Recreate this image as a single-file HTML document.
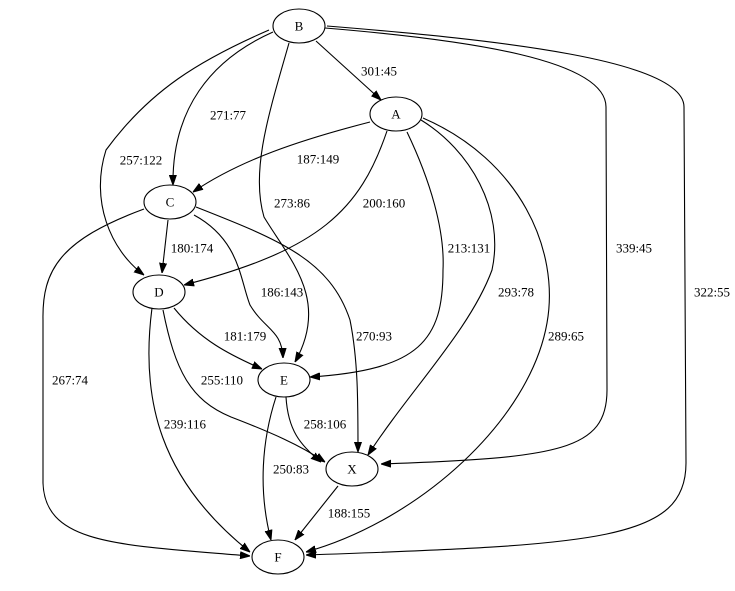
<!DOCTYPE html>
<html><head><meta charset="utf-8"><style>
html,body{margin:0;padding:0;background:#fff;}
svg{display:block;}
text{font-family:"Liberation Serif",serif;font-size:13px;fill:#000;text-anchor:middle;dominant-baseline:central;}
path.e{fill:none;stroke:#000;stroke-width:1.1;}
path.h{fill:#000;stroke:#000;stroke-width:1;}
ellipse{fill:#fff;stroke:#000;stroke-width:1.1;}
</style></head><body>
<svg width="735" height="591" viewBox="0 0 735 591" xmlns="http://www.w3.org/2000/svg">
<defs><marker id="a" viewBox="0 0 10 8" refX="10" refY="4" markerWidth="10" markerHeight="8" markerUnits="userSpaceOnUse" orient="auto"><path class="h" d="M0,0.5 L10,4 L0,7.5 Z"/></marker></defs>
<g marker-end="url(#a)">
<path class="e" d="M316,41 L381,100"/>
<path class="e" d="M273,32 C210,60 172,110 173,185"/>
<path class="e" d="M269,30 C200,60 150,90 106,150 C90,200 110,250 144,275"/>
<path class="e" d="M289,43 C270,110 250,170 264,217 C290,260 330,300 295,362"/>
<path class="e" d="M325,28 C470,40 606,60 606,107 L607,390 C607,450 560,458 381,464"/>
<path class="e" d="M327,26 C500,40 684,60 684,107 L686,463 C686,540 600,545 306,555"/>
<path class="e" d="M370,122 C300,140 240,160 193,192"/>
<path class="e" d="M387,131 C360,210 320,250 184,285"/>
<path class="e" d="M407,132 C430,180 445,230 443,270 C443,340 420,370 310,377"/>
<path class="e" d="M421,120 C470,150 505,210 492,270 C470,330 410,390 368,455"/>
<path class="e" d="M423,118 C520,160 560,250 547,323 C530,420 420,520 306,552"/>
<path class="e" d="M144,209 C60,240 42,270 43,320 L43,483 C45,545 120,545 250,556"/>
<path class="e" d="M168,220 L162,273"/>
<path class="e" d="M194,215 C240,240 240,280 250,305 C265,330 282,330 283,358"/>
<path class="e" d="M196,207 C280,240 330,260 350,320 C358,360 358,400 358,452"/>
<path class="e" d="M174,308 C200,340 230,355 262,369"/>
<path class="e" d="M163,310 C175,370 190,400 231,417 C270,432 300,445 325,462"/>
<path class="e" d="M152,308 C140,400 160,480 250,552"/>
<path class="e" d="M286,397 C288,430 300,445 321,462"/>
<path class="e" d="M276,397 C262,440 258,490 271,540"/>
<path class="e" d="M338,486 L295,540"/>
</g>
<ellipse cx="299" cy="26" rx="26" ry="17"/><text x="299" y="26">B</text>
<ellipse cx="396" cy="114" rx="26" ry="17"/><text x="396" y="114">A</text>
<ellipse cx="170" cy="202" rx="26" ry="17"/><text x="170" y="202">C</text>
<ellipse cx="159" cy="292" rx="26" ry="17"/><text x="159" y="292">D</text>
<ellipse cx="284" cy="380" rx="26" ry="17"/><text x="284" y="380">E</text>
<ellipse cx="352" cy="469" rx="26" ry="17"/><text x="352" y="469">X</text>
<ellipse cx="278" cy="557" rx="26" ry="17"/><text x="278" y="557">F</text>
<text x="379" y="71">301:45</text>
<text x="228" y="115">271:77</text>
<text x="141" y="160">257:122</text>
<text x="292" y="203">273:86</text>
<text x="634" y="248">339:45</text>
<text x="712" y="292">322:55</text>
<text x="318" y="159">187:149</text>
<text x="384" y="203">200:160</text>
<text x="469" y="248">213:131</text>
<text x="516" y="292">293:78</text>
<text x="566" y="336">289:65</text>
<text x="70" y="380">267:74</text>
<text x="192" y="248">180:174</text>
<text x="282" y="292">186:143</text>
<text x="374" y="336">270:93</text>
<text x="245" y="336">181:179</text>
<text x="222" y="380">255:110</text>
<text x="185" y="424">239:116</text>
<text x="325" y="424">258:106</text>
<text x="291" y="469">250:83</text>
<text x="349" y="513">188:155</text>
</svg>
</body></html>
